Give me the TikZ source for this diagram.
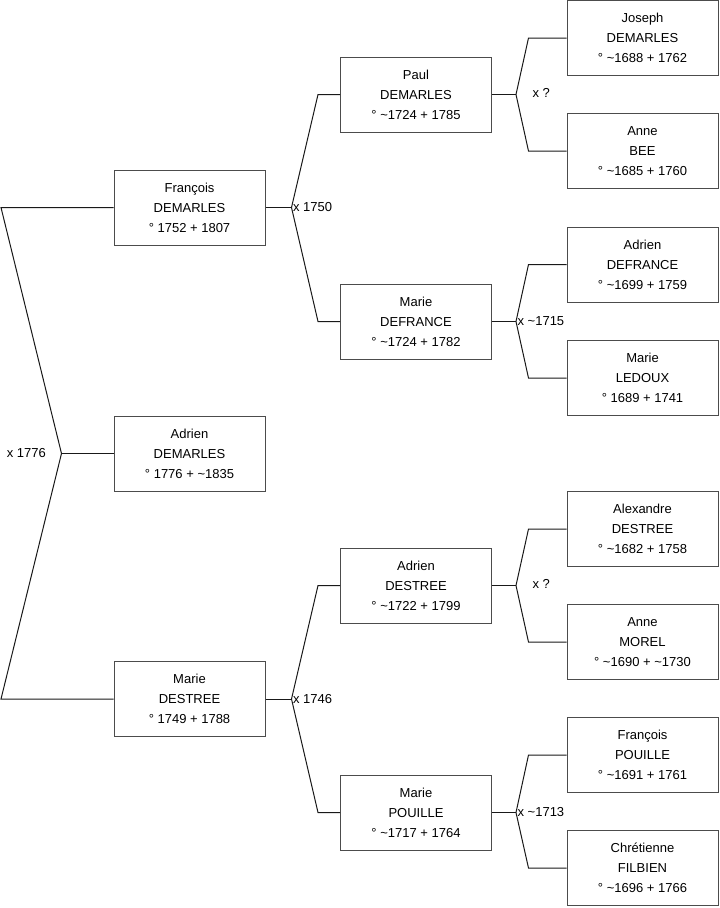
\documentclass[tikz,border=0pt]{standalone}
\usepackage{fontspec}
\setmainfont{Liberation Sans}
\usetikzlibrary{calc}
\begin{document}
\begin{tikzpicture}[x=0.75pt,y=-0.75pt,
  person/.style={draw=black!70,line width=0.75pt,fill=white,align=center,minimum width=113.25pt,minimum height=56.25pt,inner sep=0pt,font=\fontsize{9.75}{15}\selectfont},
  link/.style={draw=black!90,line width=0.75pt},
  marr/.style={font=\fontsize{9.75}{11}\selectfont,inner sep=1pt}]
\useasboundingbox (0,0) rectangle (719,908);
% generation 0 and 1
\node[person] (adrien) at (189.5,453.5) {Adrien\\DEMARLES\\° 1776 + \textasciitilde 1835};
\node[person] (francois) at (189.5,207.5) {François\\DEMARLES\\° 1752 + 1807};
\node[person] (mdestree) at (189.5,699) {Marie\\DESTREE\\° 1749 + 1788};
% generation 2
\node[person] (paul) at (416,94.5) {Paul\\DEMARLES\\° \textasciitilde 1724 + 1785};
\node[person] (mdefrance) at (416,321.5) {Marie\\DEFRANCE\\° \textasciitilde 1724 + 1782};
\node[person] (adestree) at (416,585.5) {Adrien\\DESTREE\\° \textasciitilde 1722 + 1799};
\node[person] (mpouille) at (416,812.5) {Marie\\POUILLE\\° \textasciitilde 1717 + 1764};
% generation 3
\node[person] (joseph) at (642.5,38) {Joseph\\DEMARLES\\° \textasciitilde 1688 + 1762};
\node[person] (abee) at (642.5,151) {Anne\\BEE\\° \textasciitilde 1685 + 1760};
\node[person] (adefrance) at (642.5,264.5) {Adrien\\DEFRANCE\\° \textasciitilde 1699 + 1759};
\node[person] (mledoux) at (642.5,378) {Marie\\LEDOUX\\° 1689 + 1741};
\node[person] (alexandre) at (642.5,529) {Alexandre\\DESTREE\\° \textasciitilde 1682 + 1758};
\node[person] (amorel) at (642.5,642) {Anne\\MOREL\\° \textasciitilde 1690 + \textasciitilde 1730};
\node[person] (fpouille) at (642.5,755) {François\\POUILLE\\° \textasciitilde 1691 + 1761};
\node[person] (chretienne) at (642.5,868) {Chrétienne\\FILBIEN\\° \textasciitilde 1696 + 1766};
% root couple
\coordinate (rj) at ($(adrien.west)+(-52,0)$);
\draw[link] (francois.west) -- (francois.west -| 1,0) -- (rj) -- (mdestree.west -| 1,0) -- (mdestree.west);
\draw[link] (rj) -- (adrien.west);
\node[marr,anchor=east] (m1776) at ($(rj)+(-14,0)$) {x 1776};
% couples of generation 2
\draw[link] (francois.east) -- ++(26,0) coordinate (jf);
\draw[link] (paul.west) -- ++(-22,0) -- (jf) -- ($(mdefrance.west)+(-22,0)$) -- (mdefrance.west);
\node[marr,anchor=west] (m1750) at (jf) {x 1750};
\draw[link] (mdestree.east) -- ++(26,0) coordinate (jm);
\draw[link] (adestree.west) -- ++(-22,0) -- (jm) -- ($(mpouille.west)+(-22,0)$) -- (mpouille.west);
\node[marr,anchor=west] (m1746) at (jm) {x 1746};
% couples of generation 3
\draw[link] (paul.east) -- ++(24,0) coordinate (jp);
\draw[link] (joseph.west) -- ++(-38,0) -- (jp) -- ($(abee.west)+(-38,0)$) -- (abee.west);
\node[marr,anchor=west] (mp) at ($(jp)+(15,-2)$) {x ?};
\draw[link] (mdefrance.east) -- ++(24,0) coordinate (jd);
\draw[link] (adefrance.west) -- ++(-38,0) -- (jd) -- ($(mledoux.west)+(-38,0)$) -- (mledoux.west);
\node[marr,anchor=west] (m1715) at (jd) {x \textasciitilde 1715};
\draw[link] (adestree.east) -- ++(24,0) coordinate (ja);
\draw[link] (alexandre.west) -- ++(-38,0) -- (ja) -- ($(amorel.west)+(-38,0)$) -- (amorel.west);
\node[marr,anchor=west] (ma) at ($(ja)+(15,-2)$) {x ?};
\draw[link] (mpouille.east) -- ++(24,0) coordinate (jo);
\draw[link] (fpouille.west) -- ++(-38,0) -- (jo) -- ($(chretienne.west)+(-38,0)$) -- (chretienne.west);
\node[marr,anchor=west] (m1713) at (jo) {x \textasciitilde 1713};
\end{tikzpicture}
\end{document}
